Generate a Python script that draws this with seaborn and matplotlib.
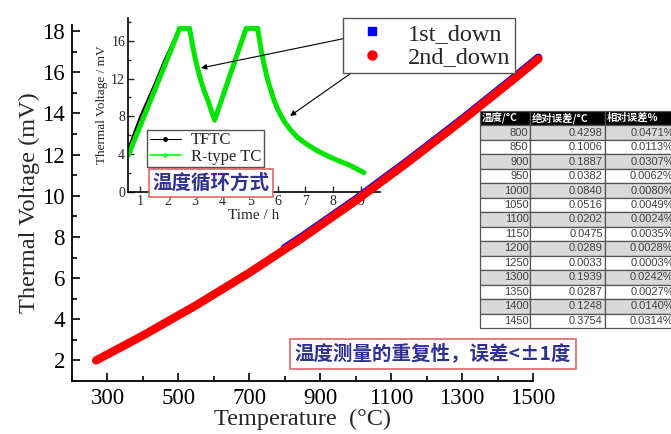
"""
Thermal voltage vs temperature (repeatability) with cycling inset and error table.
"""
import matplotlib
matplotlib.use("Agg")
import matplotlib.pyplot as plt
import seaborn as sns
from matplotlib.lines import Line2D
from matplotlib.ticker import MultipleLocator

sns.set_theme(style="ticks")
plt.rcParams["font.family"] = ["Liberation Serif", "DejaVu Serif"]
CJK = ["Noto Sans CJK SC", "DejaVu Sans"]

# main curves
temp_2nd = [268, 400, 550, 700, 850, 1000, 1150, 1300, 1450, 1515]
volt_2nd = [2.0, 3.21, 4.68, 6.26, 7.96, 9.76, 11.67, 13.66, 15.73, 16.65]
temp_1st = [800, 850, 1000, 1150, 1300, 1450, 1515]
volt_1st = [7.46, 8.02, 9.82, 11.73, 13.72, 15.79, 16.71]

# inset: temperature cycling
time_rtc = [0.58, 1.0, 1.5, 2.0, 2.44, 2.80, 2.86, 2.93, 3.00, 3.07, 3.15, 3.24,
            3.33, 3.41, 3.50, 3.60, 3.71, 4.2, 4.85, 5.27, 5.31, 5.36, 5.42,
            5.50, 5.60, 5.72, 5.85, 6.00, 6.20, 6.42, 6.70, 7.02, 7.40, 7.86,
            8.20, 8.58, 9.12]
volt_rtc = [3.9, 6.9, 10.5, 14.1, 17.3, 17.3, 16.3, 15.2, 14.2, 13.3, 12.4, 11.5,
            10.7, 10.1, 9.4, 8.5, 7.6, 11.8, 17.3, 17.3, 16.5, 15.6, 14.6,
            13.5, 12.2, 11.0, 9.8, 8.7, 7.6, 6.7, 5.8, 5.1, 4.4, 3.74,
            3.3, 2.86, 2.05]
time_tftc = [0.58, 1.0, 1.5, 1.9, 2.44, 2.80, 2.86, 2.93, 3.00, 3.07, 3.15, 3.24,
             3.33, 3.41, 3.50, 3.60, 3.71, 4.2, 4.85, 5.27, 5.31, 5.36, 5.42,
             5.50, 5.60, 5.72, 5.85, 6.00, 6.20, 6.42, 6.70, 7.02, 7.40, 7.86,
             8.20, 8.58, 9.12]
volt_tftc = [4.6, 7.9, 11.2, 14.0, 17.4, 17.4, 16.3, 15.2, 14.2, 13.3, 12.4, 11.5,
             10.7, 10.1, 9.4, 8.5, 7.6, 11.8, 17.3, 17.3, 16.5, 15.6, 14.6,
             13.5, 12.2, 11.0, 9.8, 8.7, 7.6, 6.7, 5.8, 5.1, 4.4, 3.74,
             3.3, 2.86, 2.05]

# error table
tab_head = ["温度/°C", "绝对误差/°C", "相对误差%"]
tab_temp = ["800", "850", "900", "950", "1000", "1050", "1100",
            "1150", "1200", "1250", "1300", "1350", "1400", "1450"]
tab_abs = ["0.4298", "0.1006", "0.1887", "0.0382", "0.0840", "0.0516", "0.0202",
           "0.0475", "0.0289", "0.0033", "0.1939", "0.0287", "0.1248", "0.3754"]
tab_rel = ["0.0471%", "0.0113%", "0.0307%", "0.0062%", "0.0080%", "0.0049%", "0.0024%",
           "0.0035%", "0.0028%", "0.0003%", "0.0242%", "0.0027%", "0.0140%", "0.0314%"]

W, H = 671, 434
TEXT_BLUE = "#2E3192"


def box(x0, y0, x1, y1):
    return [x0 / W, 1 - y1 / H, (x1 - x0) / W, (y1 - y0) / H]


fig = plt.figure(figsize=(W / 100, H / 100), dpi=100, facecolor="white")

# ---- main axes
ax = fig.add_axes(box(72, 25, 533, 381))
sns.lineplot(x=temp_1st, y=volt_1st, ax=ax, color="#0000FF", lw=6,
             solid_capstyle="round", sort=False, clip_on=False)
sns.lineplot(x=temp_2nd, y=volt_2nd, ax=ax, color="#FF0000", lw=6,
             solid_capstyle="round", sort=False, clip_on=False)
ax.set_xlim(200, 1500)
ax.set_ylim(1.0, 18.3)
ax.set_xticks(range(300, 1501, 200))
ax.xaxis.set_minor_locator(MultipleLocator(100))
ax.set_yticks(range(2, 19, 2))
ax.yaxis.set_minor_locator(MultipleLocator(1))
ax.tick_params(which="both", direction="in", width=1.2, labelsize=16.5, colors="black")
ax.tick_params(which="major", length=6, pad=5)
ax.tick_params(which="minor", length=3.5)
for s in ["top", "right"]:
    ax.spines[s].set_visible(False)
for s in ["left", "bottom"]:
    ax.spines[s].set_linewidth(1.3)
    ax.spines[s].set_color("black")
ax.set_xlabel("Temperature  (°C)", fontsize=17.5, labelpad=0)
ax.set_ylabel("Thermal Voltage (mV)", fontsize=17.5, labelpad=2)
ax.set_zorder(2)
ax.patch.set_alpha(0)

handles = [Line2D([], [], ls="none", marker="s", color="#0000FF", ms=5.5),
           Line2D([], [], ls="none", marker="o", color="#FF0000", ms=6.5)]
fig.legend(handles, ["1st_down", "2nd_down"], loc="upper left",
           bbox_to_anchor=(343 / W, 1 - 18 / H), fontsize=17.5, frameon=True,
           fancybox=False, edgecolor="#555555", framealpha=1,
           handlelength=2.0, handletextpad=0.45, borderpad=0.2, labelspacing=0.05,
           borderaxespad=0)

# ---- inset
axi = fig.add_axes(box(128, 18, 380, 192))
sns.lineplot(x=time_tftc, y=volt_tftc, ax=axi, color="black", lw=1.5, sort=False)
sns.lineplot(x=time_rtc, y=volt_rtc, ax=axi, color="#00E600", lw=3.6, sort=False,
             solid_joinstyle="round", solid_capstyle="round")
axi.set_xlim(0.57, 9.7)
axi.set_ylim(0, 18.4)
axi.set_xticks(range(1, 10))
axi.set_yticks([0, 4, 8, 12, 16])
axi.yaxis.set_minor_locator(MultipleLocator(2))
axi.tick_params(which="both", direction="in", width=1, labelsize=10, pad=2)
axi.tick_params(which="major", length=4)
axi.tick_params(which="minor", length=2.5)
for s in ["top", "right"]:
    axi.spines[s].set_visible(False)
for s in ["left", "bottom"]:
    axi.spines[s].set_linewidth(1.2)
    axi.spines[s].set_color("black")
axi.set_xlabel("Time / h", fontsize=11, labelpad=1)
axi.set_ylabel("Thermal Voltage / mV", fontsize=9.5, labelpad=2)
axi.patch.set_alpha(0)
axi.set_zorder(1)

ins_handles = [Line2D([], [], color="black", lw=0.8, marker="o", ms=2.5),
               Line2D([], [], color="#33FF33", lw=1.5, marker="o", ms=2.5)]
fig.legend(ins_handles, ["TFTC", "R-type TC"], loc="upper left",
           bbox_to_anchor=(147 / W, 1 - 130 / H), fontsize=12, frameon=True,
           fancybox=False, edgecolor="#555555", framealpha=1,
           handlelength=1.9, handletextpad=0.6, borderpad=0.15, labelspacing=0.02,
           borderaxespad=0)

fig.text(211 / W, 1 - 183 / H, "温度循环方式", family=CJK, fontsize=14,
         fontweight="bold", color=TEXT_BLUE, ha="center", va="center", zorder=5,
         bbox=dict(boxstyle="square,pad=0.2", fc="white", ec="#E06666", lw=1.2))

# ---- arrows from legend to inset
arrow = dict(arrowstyle="-|>", color="black", lw=0.8, mutation_scale=8,
             shrinkA=0, shrinkB=0)
ax.annotate("", xy=(201 / W, 1 - 68 / H), xytext=(366 / W, 1 - 34 / H),
            xycoords="figure fraction", arrowprops=arrow, annotation_clip=False)
ax.annotate("", xy=(290 / W, 1 - 116 / H), xytext=(367 / W, 1 - 62 / H),
            xycoords="figure fraction", arrowprops=arrow, annotation_clip=False)

# ---- repeatability note
fig.text(433 / W, 1 - 354 / H, "温度测量的重复性，误差<±1度", family=CJK, fontsize=14,
         fontweight="bold", color=TEXT_BLUE, ha="center", va="center", zorder=5,
         bbox=dict(boxstyle="square,pad=0.25", fc="white", ec="#E06666", lw=1.2))

# ---- error table
axt = fig.add_axes(box(480, 111, 676, 328))
axt.axis("off")
axt.set_zorder(4)
rows = [list(r) for r in zip(tab_temp, tab_abs, tab_rel)]
tbl = axt.table(cellText=rows, colLabels=tab_head, cellLoc="right",
                colLoc="left", bbox=[0, 0, 1, 1], colWidths=[50, 75, 71])
tbl.auto_set_font_size(False)
tbl.set_fontsize(8)
for (r, c), cell in tbl.get_celld().items():
    cell.set_edgecolor("#555555")
    cell.set_linewidth(0.9)
    txt = cell.get_text()
    if r == 0:
        cell.set_facecolor("black")
        txt.set_color("white")
        txt.set_fontweight("bold")
        txt.set_fontfamily(CJK)
        txt.set_fontsize(7.5)
    else:
        cell.set_facecolor("#D9D9D9" if r % 2 == 1 else "white")
        txt.set_color("#404040")
        txt.set_fontfamily(["Liberation Sans", "DejaVu Sans"])
    cell.PAD = 0.03

fig.savefig("out.png", dpi=100, facecolor="white")
